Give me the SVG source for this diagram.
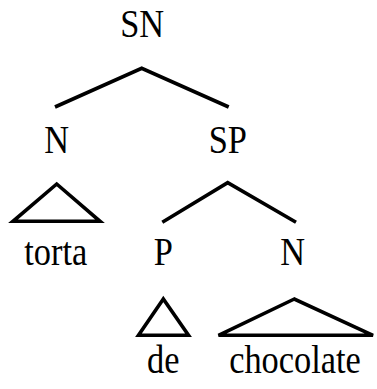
<svg xmlns="http://www.w3.org/2000/svg" width="377" height="389" viewBox="0 0 377 389">
<defs>
<style>
.t{font-family:'Liberation Serif',serif;font-size:40px;fill:#000;text-anchor:middle}
.l{fill:none;stroke:#000;stroke-width:3.6;stroke-linejoin:miter}
</style>
</defs>
<rect width="377" height="389" fill="#fff"/>
<g id="connectors">
<polyline class="l" points="55,107 141.7,68.3 228.7,107"/>
<polyline class="l" points="162.3,222.3 227.7,182.7 296,222.3"/>
<polygon class="l" points="56.7,184 13,221.3 100,221.3"/>
<polygon class="l" points="163.3,299 138.5,335.3 188.5,335.3"/>
<polygon class="l" points="294.3,299 218.5,335.3 373,335.3"/>
</g>
<g id="SN"><text class="t" transform="translate(142.2,36.7) scale(0.86,1)">SN</text></g>
<g id="N1"><text class="t" transform="translate(56.7,152.7) scale(0.86,1)">N</text></g>
<g id="SP"><text class="t" transform="translate(227.8,152.7) scale(0.86,1)">SP</text></g>
<g id="torta"><text class="t" transform="translate(55.8,265) scale(0.86,1)">torta</text></g>
<g id="P"><text class="t" transform="translate(163.3,265) scale(0.86,1)">P</text></g>
<g id="N2"><text class="t" transform="translate(292.7,265) scale(0.86,1)">N</text></g>
<g id="de"><text class="t" transform="translate(163.3,372.7) scale(0.86,1)">de</text></g>
<g id="chocolate"><text class="t" transform="translate(295,372.7) scale(0.86,1)">chocolate</text></g>
</svg>
